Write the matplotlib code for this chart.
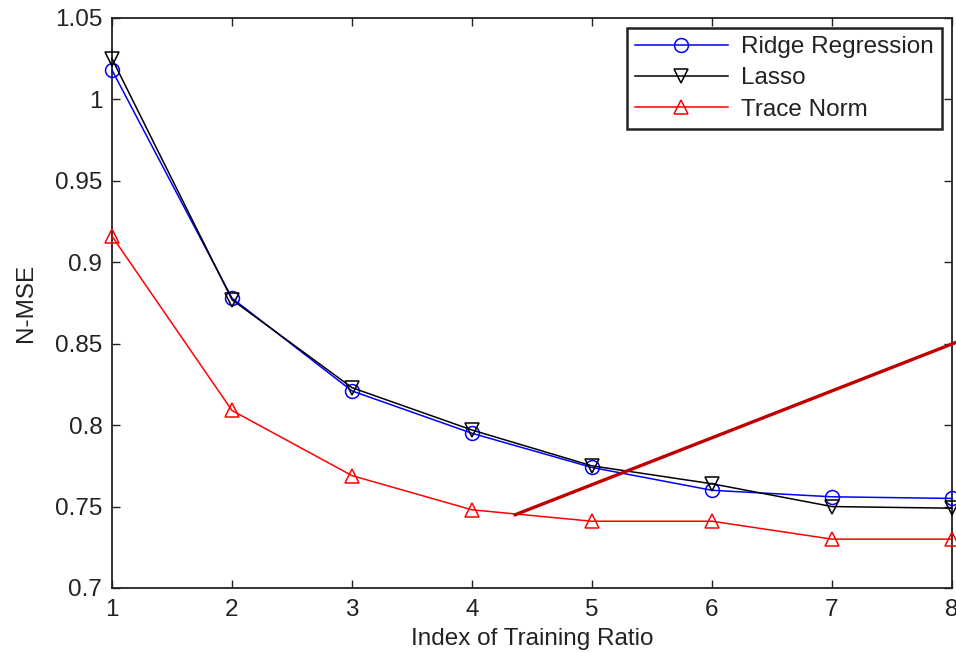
import matplotlib.pyplot as plt

# data
ratio_idx = [1, 2, 3, 4, 5, 6, 7, 8]
ridge = [1.018, 0.878, 0.821, 0.795, 0.774, 0.760, 0.756, 0.755]
lasso = [1.025, 0.877, 0.823, 0.797, 0.775, 0.764, 0.750, 0.749]
trace_norm = [0.916, 0.809, 0.769, 0.748, 0.741, 0.741, 0.730, 0.730]

# stray annotation line (dark red)
annot_x = [4.36, 8.04]
annot_y = [0.745, 0.851]

y_ticks = [0.7, 0.75, 0.8, 0.85, 0.9, 0.95, 1.0, 1.05]
y_tick_labels = ['0.7', '0.75', '0.8', '0.85', '0.9', '0.95', '1', '1.05']

plt.rcParams['font.family'] = ['Liberation Sans', 'DejaVu Sans']
fs = 17.5

fig = plt.figure(figsize=(9.56, 6.53), dpi=100)
ax = fig.add_axes([112 / 956, 1 - 588 / 653, 840 / 956, 570 / 653])

ax.plot(ratio_idx, ridge, color='#0000ff', lw=1.1, marker='o', ms=10,
        mfc='none', mec='#0000ff', mew=1.1, label='Ridge Regression', clip_on=False, zorder=3)
ax.plot(ratio_idx, lasso, color='black', lw=1.1, marker='v', ms=10,
        mfc='none', mec='black', mew=1.1, label='Lasso', clip_on=False, zorder=3)
ax.plot(ratio_idx, trace_norm, color='#ff0000', lw=1.1, marker='^', ms=10,
        mfc='none', mec='#ff0000', mew=1.1, label='Trace Norm', clip_on=False, zorder=3)

ax.plot(annot_x, annot_y, color='#c00000', lw=2.4, clip_on=False, zorder=4)

ax.set_xlim(1, 8)
ax.set_ylim(0.7, 1.05)
ax.set_xticks(ratio_idx)
ax.set_yticks(y_ticks)
ax.set_yticklabels(y_tick_labels)
ax.tick_params(direction='in', top=True, right=True, labelsize=fs, length=6, width=1,
               colors='#222222')
ax.tick_params(axis='x', pad=8)
ax.tick_params(axis='y', pad=7)
for s in ax.spines.values():
    s.set_linewidth(1.3)
    s.set_color('#222222')

ax.set_xlabel('Index of Training Ratio', fontsize=fs, labelpad=5, color='#222222')
ax.set_ylabel('N-MSE', fontsize=fs, labelpad=13, color='#222222')

leg = ax.legend(loc='upper right', fontsize=fs, handlelength=3.8, borderaxespad=0.4,
                fancybox=False, framealpha=1, edgecolor='#222222', borderpad=0.35,
                labelspacing=0.38, handletextpad=0.55)
leg.get_frame().set_linewidth(1.8)
for t in leg.get_texts():
    t.set_color('#222222')

plt.savefig('out.png', dpi=100)
plt.close()
